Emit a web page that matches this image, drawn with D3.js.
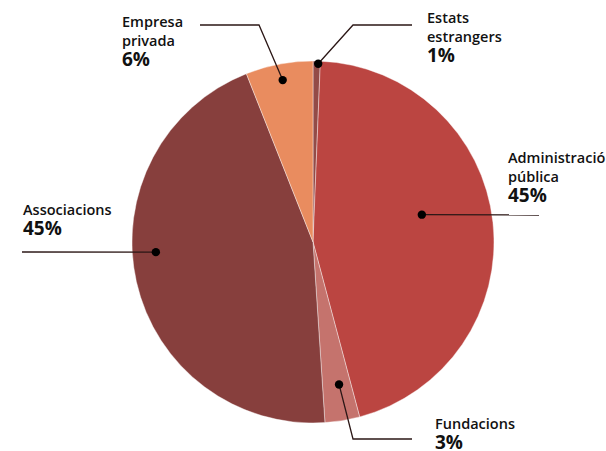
<!DOCTYPE html>
<html>
<head>
<meta charset="utf-8">
<script src="https://cdn.jsdelivr.net/npm/d3@7"></script>
<style>
  html, body { margin: 0; padding: 0; background: #fff; }
  svg { display: block; }
  text { font-family: "Open Sans", "Noto Sans", sans-serif; fill: #111; }
</style>
</head>
<body>
<svg id="chart" width="606" height="451"></svg>
<script>
// ---- data ----
const categories = ["Estats estrangers", "Administració pública", "Fundacions", "Associacions", "Empresa privada"];
const values = [0.65, 45.2, 3.1, 45.05, 6.0];
const percentLabels = ["1%", "45%", "3%", "45%", "6%"];
const nameLines = [["Estats", "estrangers"], ["Administració", "pública"], ["Fundacions"], ["Associacions"], ["Empresa", "privada"]];
const colors = ["#934b47", "#bb4541", "#c5736d", "#873f3d", "#e98c5f"];

// ---- layout ----
const svg = d3.select("#chart");
const cx = 313, cy = 242, R = 181;
const g = svg.append("g").attr("transform", `translate(${cx},${cy})`);

const pie = d3.pie().sort(null).value(d => d)(values);
const arc = d3.arc().innerRadius(0).outerRadius(R);

g.selectAll("path.slice").data(pie).join("path")
  .attr("class", "slice")
  .attr("d", arc)
  .attr("fill", (d, i) => colors[i])
  .attr("stroke", "#fff")
  .attr("stroke-width", 0.4);

// callout geometry (annotation layout): angle shift (deg), dot radius fraction, path shape
const callout = [
  { dA: 0.5, rf: 0.985, elbow: [353, 25], end: [412, 25], tx: 427, ty: 23, anchor: "start" },
  { dA: -7.8, rf: 0.62, elbow: null, end: [539, 215], tx: 508, ty: 163, anchor: "start" },
  { dA: -1.0, rf: 0.80, elbow: [353, 439], end: [412, 439], tx: 435, ty: 429, anchor: "start" },
  { dA: 9.0, rf: 0.87, elbow: null, end: [22, 252], tx: 23, ty: 215, anchor: "start" },
  { dA: 0.2, rf: 0.91, elbow: [259, 25], end: [200, 25], tx: 122, ty: 27, anchor: "start" }
];

const ann = svg.append("g");
pie.forEach((p, i) => {
  const c = callout[i];
  const a = (p.startAngle + p.endAngle) / 2 + c.dA * Math.PI / 180;
  const r = R * c.rf;
  const dx = cx + r * Math.sin(a), dy = cy - r * Math.cos(a);
  const pts = [[dx, dy]];
  if (c.elbow) pts.push(c.elbow);
  pts.push(c.end);
  ann.append("path")
    .attr("d", d3.line()(pts))
    .attr("fill", "none")
    .attr("stroke", "#2b1716")
    .attr("stroke-width", 1.3);
  ann.append("circle").attr("cx", dx).attr("cy", dy).attr("r", 4.2).attr("fill", "#000");

  const t = ann.append("g");
  nameLines[i].forEach((ln, j) => {
    t.append("text")
      .attr("x", c.tx).attr("y", c.ty + j * 19)
      .attr("font-size", 14.5).attr("font-weight", 600)
      .text(ln);
  });
  t.append("text")
    .attr("x", c.tx).attr("y", c.ty + nameLines[i].length * 19 + 1)
    .attr("font-size", 19).attr("font-weight", 700)
    .text(percentLabels[i]);
});
</script>
</body>
</html>
